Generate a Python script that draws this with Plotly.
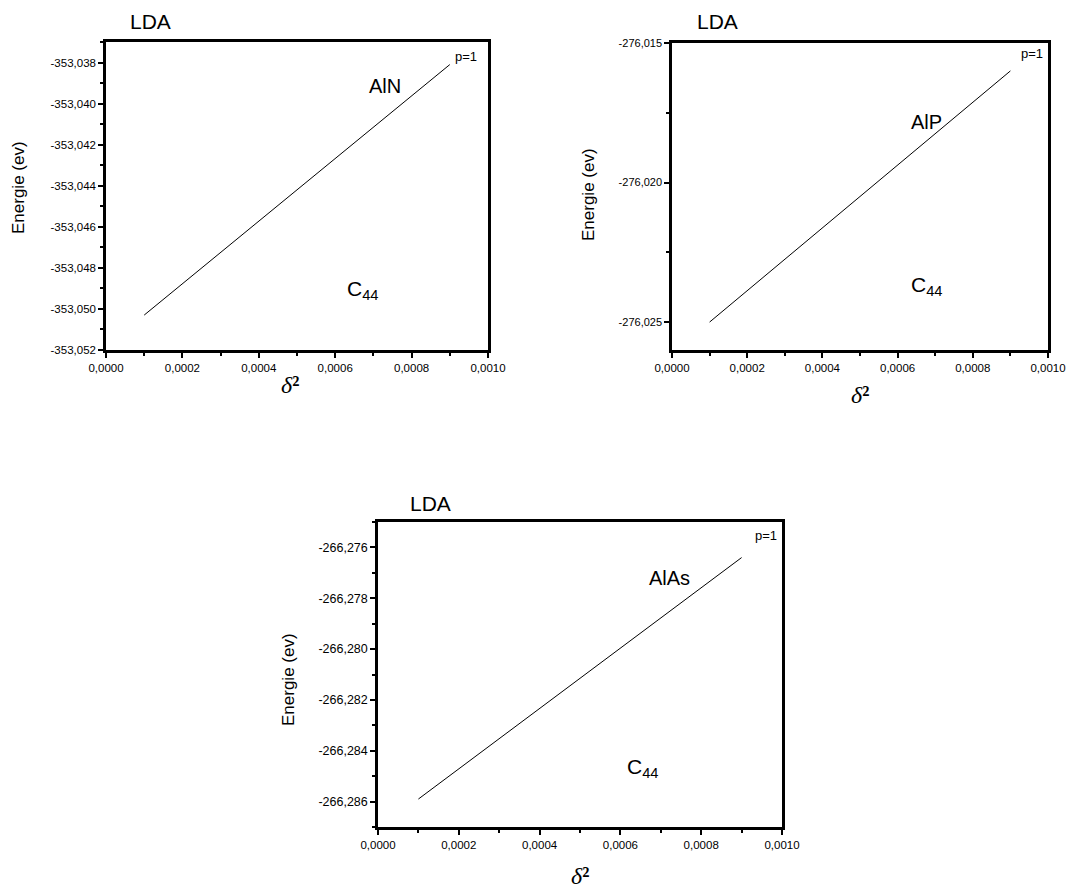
import plotly.graph_objects as go

W, H = 1066, 888

# ---- data ----
delta2 = [0.0001, 0.0009]
energy_AlN = [-353.0503, -353.0381]
energy_AlP = [-276.0250, -276.0160]
energy_AlAs = [-266.2859, -266.2764]

materials = ["AlN", "AlP", "AlAs"]
series = [energy_AlN, energy_AlP, energy_AlAs]
y_ranges = [[-353.052, -353.037], [-276.026, -276.015], [-266.287, -266.275]]

x_tickvals = [0, 0.0002, 0.0004, 0.0006, 0.0008, 0.001]
x_ticktext = ["0,0000", "0,0002", "0,0004", "0,0006", "0,0008", "0,0010"]

y_tickvals_AlN = [-353.052, -353.050, -353.048, -353.046, -353.044, -353.042, -353.040, -353.038]
y_ticktext_AlN = ["-353,052", "-353,050", "-353,048", "-353,046", "-353,044", "-353,042", "-353,040", "-353,038"]
y_tickvals_AlP = [-276.025, -276.020, -276.015]
y_ticktext_AlP = ["-276,025", "-276,020", "-276,015"]
y_tickvals_AlAs = [-266.286, -266.284, -266.282, -266.280, -266.278, -266.276]
y_ticktext_AlAs = ["-266,286", "-266,284", "-266,282", "-266,280", "-266,278", "-266,276"]

y_tickvals = [y_tickvals_AlN, y_tickvals_AlP, y_tickvals_AlAs]
y_ticktext = [y_ticktext_AlN, y_ticktext_AlP, y_ticktext_AlAs]
y_minor = [0.001, 0.0025, 0.001]
y_minor0 = [-353.052, -276.025, -266.286]

# ---- layout (pixel boxes) ----
boxes = [(106, 488, 42, 350), (672, 1048, 43, 350), (378, 782, 522, 827)]
y_tick_sizes = [11.5, 11, 12.5]

def px(x):
    return x / W

def py(y):
    return 1 - y / H

FONT = "Arial, Liberation Sans, sans-serif"
fig = go.Figure()

for i, (name, e) in enumerate(zip(materials, series)):
    xa = "x" if i == 0 else f"x{i+1}"
    ya = "y" if i == 0 else f"y{i+1}"
    fig.add_trace(go.Scatter(x=delta2, y=e, mode="lines",
                             line=dict(color="black", width=1),
                             xaxis=xa, yaxis=ya, showlegend=False, name=name))

layout = dict(width=W, height=H, margin=dict(l=0, r=0, t=0, b=0),
              paper_bgcolor="white", plot_bgcolor="white",
              separators=",.", font=dict(family=FONT, color="black"))

for i, (l, r, t, b) in enumerate(boxes):
    xk = "xaxis" if i == 0 else f"xaxis{i+1}"
    yk = "yaxis" if i == 0 else f"yaxis{i+1}"
    ya = "y" if i == 0 else f"y{i+1}"
    xa = "x" if i == 0 else f"x{i+1}"
    layout[xk] = dict(domain=[px(l), px(r)], anchor=ya, range=[0, 0.001],
                      tickmode="array", tickvals=x_tickvals, ticktext=x_ticktext,
                      ticks="outside", ticklen=5, tickwidth=2, tickcolor="black",
                      minor=dict(tick0=0, dtick=0.0001, ticks="outside", ticklen=3,
                                 tickwidth=2, tickcolor="black"),
                      showline=True, linewidth=2.5, linecolor="black", mirror=True,
                      showgrid=False, zeroline=False, automargin=False,
                      tickfont=dict(size=11.5, family=FONT))
    layout[yk] = dict(domain=[py(b), py(t)], anchor=xa, range=y_ranges[i],
                      tickmode="array", tickvals=y_tickvals[i], ticktext=y_ticktext[i],
                      ticks="outside", ticklen=5, tickwidth=2, tickcolor="black",
                      minor=dict(tick0=y_minor0[i], dtick=y_minor[i], ticks="outside",
                                 ticklen=3, tickwidth=2, tickcolor="black"),
                      showline=True, linewidth=2.5, linecolor="black", mirror=True,
                      showgrid=False, zeroline=False, automargin=False,
                      tickfont=dict(size=y_tick_sizes[i], family=FONT))

fig.update_layout(**layout)

def ann(x, y, text, size, angle=0, family=FONT):
    fig.add_annotation(x=px(x), y=py(y), xref="paper", yref="paper", text=text,
                       showarrow=False, textangle=angle, xanchor="center", yanchor="middle",
                       font=dict(size=size, family=family, color="black"))

# panel labels
lda_pos = [(150, 22), (717, 22), (430, 503)]
mat_pos = [(385, 86), (926, 122), (669, 578)]
p_pos = [(466, 56), (1032, 53), (766, 535)]
c_pos = [(363, 290), (927, 286), (643, 768)]
ytitle_pos = [(18, 188), (588, 195), (288, 680)]
xtitle_pos = [(290, 385), (860, 395), (580, 876)]

for i in range(3):
    ann(*lda_pos[i], "LDA", 21)
    ann(*mat_pos[i], materials[i], 20)
    ann(*p_pos[i], "p=1", 13)
    ann(*c_pos[i], "C<sub>44</sub>", 21)
    ann(*ytitle_pos[i], "Energie (ev)", 17, angle=-90)
    ann(*xtitle_pos[i], "<i>δ</i><b>²</b>", 24, family="Liberation Serif, Times New Roman, serif")

fig.write_html("out.html")
